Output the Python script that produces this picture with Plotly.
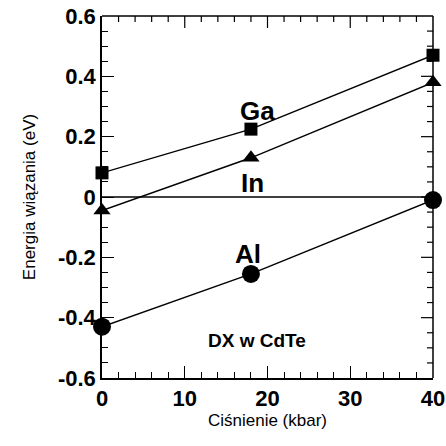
import plotly.graph_objects as go

pressure = [0, 18, 40]
ga = [0.08, 0.225, 0.47]
inn = [-0.045, 0.13, 0.38]
al = [-0.43, -0.255, -0.01]
zero_x = [0, 40]
zero_y = [0, 0]

x_ticks = [0, 10, 20, 30, 40]
x_labels = ["0", "10", "20", "30", "40"]
y_ticks = [-0.6, -0.4, -0.2, 0, 0.2, 0.4, 0.6]
y_labels = ["-0.6", "-0.4", "-0.2", "0", "0.2", "0.4", "0.6"]
x_minor = [v for v in range(2, 40, 2) if v % 10]
y_minor = [round(-0.6 + 0.05 * i, 2) for i in range(1, 24) if i % 4]

FONT = "Liberation Sans, Arial"
fig = go.Figure()
line = dict(color="black", width=1.4)
fig.add_trace(go.Scatter(x=zero_x, y=zero_y, mode="lines", line=line, cliponaxis=False))
fig.add_trace(go.Scatter(x=pressure, y=ga, mode="lines+markers", line=line,
                         marker=dict(symbol="square", size=13, color="black"), cliponaxis=False))
fig.add_trace(go.Scatter(x=pressure, y=inn, mode="lines+markers", line=line,
                         marker=dict(symbol="triangle-up", size=15, color="black"), cliponaxis=False))
fig.add_trace(go.Scatter(x=pressure, y=al, mode="lines+markers", line=line,
                         marker=dict(symbol="circle", size=18, color="black"), cliponaxis=False))

lab_font = dict(family=FONT, size=26, color="black")
for txt, x, y in [("<b>Ga</b>", 18.8, 0.286), ("<b>In</b>", 18.2, 0.047), ("<b>Al</b>", 17.6, -0.19)]:
    fig.add_annotation(x=x, y=y, text=txt, showarrow=False, font=lab_font)
fig.add_annotation(x=18.7, y=-0.475, text="<b>DX w CdTe</b>", showarrow=False,
                   font=dict(family=FONT, size=19, color="black"))

# frame top/right edges and their ticks
frame = dict(color="black", width=1.5)
fig.add_shape(type="line", xref="x domain", yref="y domain", x0=0, x1=1, y0=1, y1=1, line=frame)
fig.add_shape(type="line", xref="x domain", yref="y domain", x0=1, x1=1, y0=0, y1=1, line=frame)
tick_line = dict(color="black", width=1.2)
for xv in x_minor:
    fig.add_shape(type="line", xref="x", yref="y domain", ysizemode="pixel", yanchor=1,
                  x0=xv, x1=xv, y0=0, y1=-6, line=tick_line)
for xv in x_ticks[1:-1]:
    fig.add_shape(type="line", xref="x", yref="y domain", ysizemode="pixel", yanchor=1,
                  x0=xv, x1=xv, y0=0, y1=-12, line=tick_line)
for yv in y_minor:
    fig.add_shape(type="line", yref="y", xref="x domain", xsizemode="pixel", xanchor=1,
                  y0=yv, y1=yv, x0=0, x1=-6, line=tick_line)
for yv in y_ticks[1:-1]:
    fig.add_shape(type="line", yref="y", xref="x domain", xsizemode="pixel", xanchor=1,
                  y0=yv, y1=yv, x0=0, x1=-12, line=tick_line)

axis_common = dict(showline=True, linecolor="black", linewidth=1.5, automargin=False,
                   ticks="inside", ticklen=12, tickwidth=1.3, tickcolor="black",
                   showgrid=False, zeroline=False,
                   tickfont=dict(family=FONT, size=22, color="black"))
xminor = dict(ticks="inside", dtick=2, ticklen=6, tickwidth=1.2, tickcolor="black", showgrid=False)
yminor = dict(ticks="inside", dtick=0.05, ticklen=6, tickwidth=1.2, tickcolor="black", showgrid=False)

fig.update_layout(
    xaxis=dict(range=[0, 40], tickvals=x_ticks, ticktext=[f"<b>{t}</b>" for t in x_labels],
               minor=xminor,
               title=dict(text="Ciśnienie (kbar)", font=dict(family=FONT, size=17, color="black"), standoff=2),
               **axis_common),
    yaxis=dict(range=[-0.6, 0.6], tickvals=y_ticks, ticktext=[f"<b>{t}</b>" for t in y_labels],
               minor=yminor,
               title=dict(text="Energia wiązania (eV)", font=dict(family=FONT, size=17, color="black"), standoff=18),
               **axis_common),
    width=446, height=446, margin=dict(l=102, r=13, t=16, b=68),
    plot_bgcolor="white", paper_bgcolor="white", showlegend=False)
fig.write_html("out.html")
